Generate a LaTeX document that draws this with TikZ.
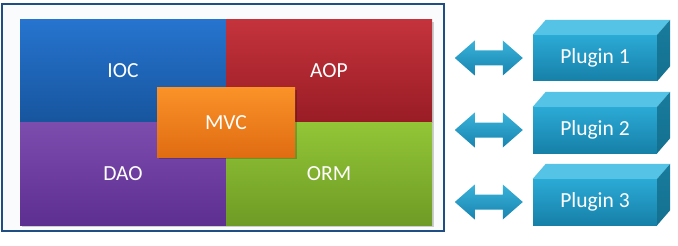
\documentclass[tikz,border=0pt]{standalone}
\usepackage{fontspec}
\setmainfont{Carlito}
\usetikzlibrary{calc,shadows}

\definecolor{framecol}{HTML}{1F4E85}
\definecolor{iocA}{HTML}{2674CF}\definecolor{iocB}{HTML}{17559E}
\definecolor{aopA}{HTML}{C4333C}\definecolor{aopB}{HTML}{991C25}
\definecolor{daoA}{HTML}{7D4DAE}\definecolor{daoB}{HTML}{5D2F91}
\definecolor{ormA}{HTML}{93C637}\definecolor{ormB}{HTML}{6E9B25}
\definecolor{mvcA}{HTML}{FA9228}\definecolor{mvcB}{HTML}{E06C12}
\definecolor{plA}{HTML}{2BAAD6}\definecolor{plB}{HTML}{1680A8}
\definecolor{plTop}{HTML}{55C3E6}\definecolor{plSide}{HTML}{14708F}
\definecolor{arA}{HTML}{3AB2DA}\definecolor{arB}{HTML}{1784AF}

\tikzset{
  block/.style={rectangle, inner sep=0pt, text=white,
    font=\fontsize{21.5}{23}\selectfont},
  plugfront/.style={rectangle, inner sep=0pt, minimum width=124pt,
    minimum height=46pt, top color=plA, bottom color=plB, text=white,
    font=\fontsize{21.5}{23}\selectfont},
  plugtop/.style={fill=plTop},
  plugside/.style={top color=plSide!80!plA, bottom color=plSide},
  linkarrow/.style={top color=arA, bottom color=arB},
}

\begin{document}
\begin{tikzpicture}[x=1pt,y=-1pt]
  \useasboundingbox (0,0) rectangle (678,246);
  \fill[white] (0,0) rectangle (678,246);

  % outer frame holding the core modules
  \node[rectangle, draw=framecol, line width=1.6pt, fill={rgb,255:red,249;green,251;blue,253},
        minimum width=442pt, minimum height=227pt] (frame) at (223,117.5) {};

  % four core modules
  \fill[black, opacity=0.18] (22,22) rectangle (434,227);
  \node[block, minimum width=206pt, minimum height=102pt, top color=iocA, bottom color=iocB] (ioc) at (123,71) {IOC};
  \node[block, minimum width=206pt, minimum height=102pt, top color=aopA, bottom color=aopB] (aop) at (329,71) {AOP};
  \node[block, minimum width=206pt, minimum height=103pt, top color=daoA, bottom color=daoB] (dao) at (123,173.5) {DAO};
  \node[block, minimum width=206pt, minimum height=103pt, top color=ormA, bottom color=ormB] (orm) at (329,173.5) {ORM};

  % MVC layer on top
  \fill[black, opacity=0.2] (159,90) rectangle (297,159);
  \node[block, minimum width=138pt, minimum height=69pt, top color=mvcA, bottom color=mvcB] (mvc) at (226,122.5) {MVC};

  % plugins as 3D boxes with double arrows to the frame
  \foreach \i/\y in {1/58, 2/130, 3/202}{
    \node[plugfront] (p\i) at (595,\y) {Plugin \i};
    \path[plugtop] (p\i.north west) -- ++(13,-15) -- ($(p\i.north east)+(13,-15)$) -- (p\i.north east) -- cycle;
    \path[plugside] (p\i.north east) -- ++(13,-15) -- ($(p\i.south east)+(13,-15)$) -- (p\i.south east) -- cycle;
    \coordinate (c\i) at ($(frame.east |- p\i.west)!0.5!(p\i.west)$);
    \path[linkarrow] ($(c\i)+(-34,0)$) -- ++(20,-17.5) -- ++(0,10) -- ++(28,0) -- ++(0,-10)
       -- ++(20,17.5) -- ++(-20,17.5) -- ++(0,-10) -- ++(-28,0) -- ++(0,10) -- cycle;
  }
\end{tikzpicture}
\end{document}
